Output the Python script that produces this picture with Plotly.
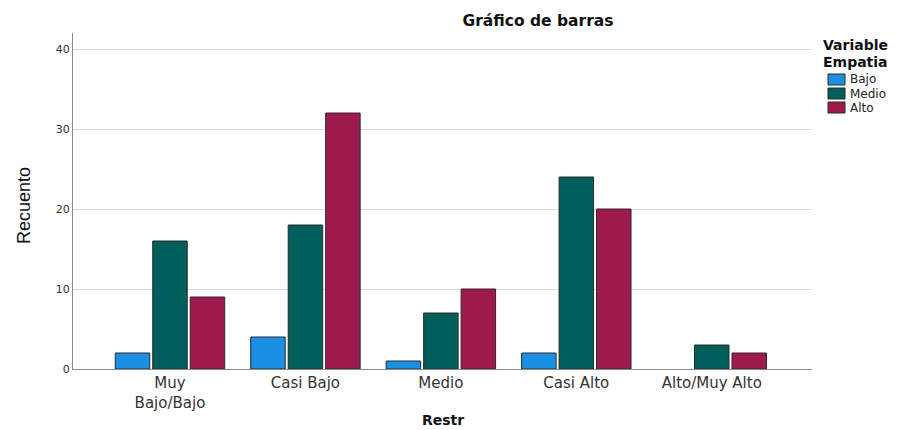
import plotly.graph_objects as go

categories = ["Muy<br>Bajo/Bajo", "Casi Bajo", "Medio", "Casi Alto", "Alto/Muy Alto"]
bajo = [2, 4, 1, 2, None]
medio = [16, 18, 7, 24, 3]
alto = [9, 32, 10, 20, 2]
series_names = ["Bajo", "Medio", "Alto"]
colors = ["#1a8fe3", "#005f5c", "#9e1a4e"]
y_ticks = [0, 10, 20, 30, 40]

# The page body adds an 8px margin, so the figure is drawn 8px smaller
OFF = 8
FIG_W, FIG_H = 908 - OFF, 430 - OFF
# plot area in window pixels
L, R, T, B = 73, 812, 33, 369
W, H = R - L, B - T


def px(x):
    return (x - L) / W


def py(y):
    return (B - y) / H


SANS = "DejaVu Sans, Liberation Sans, Arial, sans-serif"

fig = go.Figure()
for name, vals, col in zip(series_names, [bajo, medio, alto], colors):
    fig.add_trace(go.Bar(
        x=list(range(len(categories))), y=vals, name=name,
        marker=dict(color=col, line=dict(color="#2a2a2a", width=1)),
        showlegend=False,
    ))

annotations = [
    dict(text="<b>Restr</b>", x=0.5, y=py(419.5), xref="paper", yref="paper",
         xanchor="center", yanchor="middle", showarrow=False,
         font=dict(family=SANS, size=14, color="#111111")),
    dict(text="Recuento", x=px(24), y=py(205), xref="paper", yref="paper",
         xanchor="center", yanchor="middle", showarrow=False, textangle=-90,
         font=dict(family="Liberation Sans Narrow, Arial Narrow, sans-serif", size=18, color="#111111")),
    dict(text="<b>Variable</b>", x=px(821), y=py(45.5), xref="paper", yref="paper",
         xanchor="left", yanchor="middle", showarrow=False,
         font=dict(family=SANS, size=14, color="#111111")),
    dict(text="<b>Empatia</b>", x=px(821), y=py(62), xref="paper", yref="paper",
         xanchor="left", yanchor="middle", showarrow=False,
         font=dict(family=SANS, size=14, color="#111111")),
]
shapes = []
for i, (name, col) in enumerate(zip(series_names, colors)):
    top = 74 + 14 * i
    shapes.append(dict(type="rect", xref="paper", yref="paper",
                       x0=px(828), x1=px(845), y0=py(top + 11), y1=py(top),
                       fillcolor=col, line=dict(color="#2a2a2a", width=1)))
    annotations.append(dict(text=name, x=px(848), y=py(top + 5.5), xref="paper", yref="paper",
                            xanchor="left", yanchor="middle", showarrow=False,
                            font=dict(family=SANS, size=12, color="#222222")))

fig.update_layout(
    width=FIG_W, height=FIG_H,
    margin=dict(l=L - OFF, r=FIG_W - (R - OFF), t=T - OFF, b=FIG_H - (B - OFF), autoexpand=False),
    paper_bgcolor="white", plot_bgcolor="white",
    barmode="group", bargap=0.17, bargroupgap=0.08,
    font=dict(family=SANS, color="#222222"),
    title=dict(text="<b>Gráfico de barras</b>", x=(538 - OFF) / FIG_W, xref="container", xanchor="center",
               y=1 - (21 - OFF) / FIG_H, yref="container", yanchor="middle",
               font=dict(family=SANS, size=15.5, color="#111111")),
    showlegend=False,
    annotations=annotations,
    shapes=shapes,
    xaxis=dict(
        tickmode="array", tickvals=list(range(len(categories))), ticktext=categories,
        range=[-0.716, 4.74], showgrid=False, showline=True, linecolor="#8a8a8a",
        linewidth=1, ticks="", tickfont=dict(family=SANS, size=15, color="#333333"),
        zeroline=False, automargin=False,
    ),
    yaxis=dict(
        range=[0, 42], tickmode="array", tickvals=y_ticks,
        showgrid=True, gridcolor="#d9d9d9", gridwidth=1,
        showline=True, linecolor="#8a8a8a", linewidth=1, ticks="",
        tickfont=dict(family=SANS, size=11, color="#333333"),
        zeroline=False, automargin=False,
    ),
)

fig.write_html("out.html")
